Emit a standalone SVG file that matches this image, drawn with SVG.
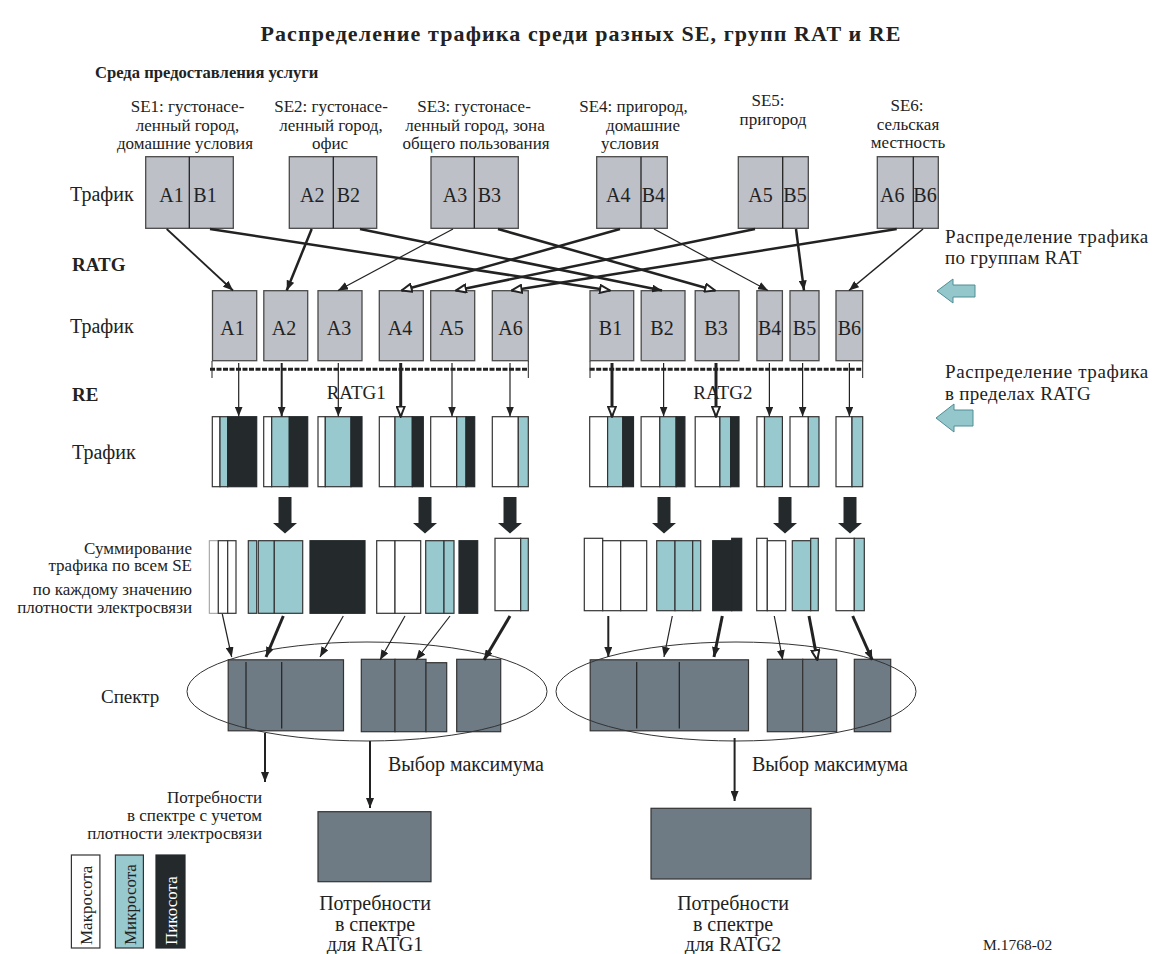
<svg xmlns="http://www.w3.org/2000/svg" width="1157" height="954" viewBox="0 0 1157 954" font-family="'Liberation Serif', 'Times New Roman', serif">
<defs>
<style>
text{font-family:"Liberation Serif","Times New Roman",serif;fill:#222}
.b{font-weight:bold}
.box{fill:#bdc0c7;stroke:#4a4a4a;stroke-width:1.3}
.w{fill:#fff;stroke:#333;stroke-width:1.2}
.c{fill:#97c9cf;stroke:#333;stroke-width:1.2}
.k{fill:#24292c;stroke:#24292c;stroke-width:1.2}
.s{fill:#6e7a84;stroke:#333;stroke-width:1.2}
.ln{stroke:#222;fill:none}
.bar{stroke:#222;stroke-width:3;stroke-dasharray:5 1.5;fill:none}
.cy{fill:#93c7cc;stroke:#4f8e94;stroke-width:1}
.ell{fill:none;stroke:#333;stroke-width:1}
</style>
<marker id="ah" markerUnits="userSpaceOnUse" markerWidth="10" markerHeight="8" refX="10" refY="4" orient="auto">
<path d="M0,0 L10,4 L0,8 z" fill="#222"/>
</marker>
<marker id="ho" markerUnits="userSpaceOnUse" markerWidth="12" markerHeight="10" refX="11" refY="5" orient="auto">
<path d="M1,1 L11,5 L1,9 z" fill="#fff" stroke="#222" stroke-width="2"/>
</marker>
<path id="bigdown" d="M-6.5,0 h13 v26 h5.5 l-12,10.5 l-12,-10.5 h5.5 z" fill="#24292c"/>
</defs>
<rect width="1157" height="954" fill="#fff"/>

<g id="headers">
<text class="b" x="581" y="41" font-size="22" letter-spacing="1.1" text-anchor="middle">Распределение трафика среди разных SE, групп RAT и RE</text>
<text class="b" x="95" y="78" font-size="16.6">Среда предоставления услуги</text>
<text x="70" y="201" font-size="20">Трафик</text>
<text class="b" x="72" y="271" font-size="19">RATG</text>
<text x="70" y="333" font-size="20">Трафик</text>
<text class="b" x="72" y="401" font-size="19">RE</text>
<text x="72" y="459" font-size="20">Трафик</text>
<text x="192" y="554" font-size="17" text-anchor="end">Суммирование</text>
<text x="192" y="571" font-size="17" text-anchor="end">трафика по всем SE</text>
<text x="192" y="595" font-size="17" text-anchor="end">по каждому значению</text>
<text x="192" y="613" font-size="17" text-anchor="end">плотности электросвязи</text>
<text x="101" y="703" font-size="19">Спектр</text>
</g>

<g id="se-labels" font-size="17" text-anchor="middle">
<text x="187.5" y="112">SE1: густонасе-</text>
<text x="187.5" y="130.5">ленный город,</text>
<text x="185" y="149">домашние условия</text>
<text x="331" y="112">SE2: густонасе-</text>
<text x="331" y="130.5">ленный город,</text>
<text x="330" y="149">офис</text>
<text x="474" y="112">SE3: густонасе-</text>
<text x="475" y="130.5">ленный город, зона</text>
<text x="476" y="149">общего пользования</text>
<text x="633.5" y="112">SE4: пригород,</text>
<text x="643" y="130.5">домашние</text>
<text x="630" y="149">условия</text>
<text x="768" y="106">SE5:</text>
<text x="773" y="124.5">пригород</text>
<text x="907" y="111">SE6:</text>
<text x="908" y="129.5">сельская</text>
<text x="908" y="148">местность</text>
</g>

<g id="traffic-se" font-size="20">
<g id="se1"><rect class="box" x="145.7" y="156.7" width="87.6" height="71.6"/><line class="ln" x1="189.3" y1="156.7" x2="189.3" y2="228.3" stroke-width="1.3"/><text x="159.3" y="201.7">A1</text><text x="193.3" y="201.7">B1</text></g>
<g id="se2"><rect class="box" x="289.3" y="156.7" width="87.4" height="71.6"/><line class="ln" x1="333.3" y1="156.7" x2="333.3" y2="228.3" stroke-width="1.3"/><text x="300" y="201.7">A2</text><text x="336.7" y="201.7">B2</text></g>
<g id="se3"><rect class="box" x="431" y="156.7" width="87.3" height="71.6"/><line class="ln" x1="474.3" y1="156.7" x2="474.3" y2="228.3" stroke-width="1.3"/><text x="442.7" y="201.7">A3</text><text x="477.7" y="201.7">B3</text></g>
<g id="se4"><rect class="box" x="596.7" y="156.7" width="70.6" height="71.6"/><line class="ln" x1="641" y1="156.7" x2="641" y2="228.3" stroke-width="1.3"/><text x="606" y="201.7">A4</text><text x="641.7" y="201.7">B4</text></g>
<g id="se5"><rect class="box" x="738.3" y="156.7" width="70" height="71.6"/><line class="ln" x1="782.7" y1="156.7" x2="782.7" y2="228.3" stroke-width="1.3"/><text x="748.3" y="201.7">A5</text><text x="783.3" y="201.7">B5</text></g>
<g id="se6"><rect class="box" x="877.3" y="156.7" width="61" height="71.6"/><line class="ln" x1="913.3" y1="156.7" x2="913.3" y2="228.3" stroke-width="1.3"/><text x="880" y="201.7">A6</text><text x="913.3" y="201.7">B6</text></g>
</g>

<g id="ratg-boxes" font-size="20" text-anchor="middle">
<g id="rA1"><rect class="box" x="212.5" y="290.7" width="44.2" height="70"/><text x="232.5" y="335">A1</text></g>
<g id="rA2"><rect class="box" x="263.8" y="290.7" width="43.9" height="70"/><text x="284" y="335">A2</text></g>
<g id="rA3"><rect class="box" x="318" y="290.7" width="44" height="70"/><text x="339" y="335">A3</text></g>
<g id="rA4"><rect class="box" x="379.3" y="290.7" width="44" height="70"/><text x="400" y="335">A4</text></g>
<g id="rA5"><rect class="box" x="430.7" y="290.7" width="44" height="70"/><text x="451.5" y="335">A5</text></g>
<g id="rA6"><rect class="box" x="492.3" y="290.7" width="36" height="70"/><text x="510.5" y="335">A6</text></g>
<g id="rB1"><rect class="box" x="590" y="290.7" width="43.7" height="70"/><text x="610.5" y="335">B1</text></g>
<g id="rB2"><rect class="box" x="641.2" y="290.7" width="43.8" height="70"/><text x="662" y="335">B2</text></g>
<g id="rB3"><rect class="box" x="695.2" y="290.7" width="43.8" height="70"/><text x="716" y="335">B3</text></g>
<g id="rB4"><rect class="box" x="756.9" y="290.7" width="25.5" height="70"/><text x="769.6" y="335">B4</text></g>
<g id="rB5"><rect class="box" x="790" y="290.7" width="29" height="70"/><text x="804.5" y="335">B5</text></g>
<g id="rB6"><rect class="box" x="836" y="290.7" width="26.7" height="70"/><text x="849.3" y="335">B6</text></g>
</g>

<g id="ratg-brackets">
<line class="bar" x1="210" y1="369.3" x2="528.3" y2="369.3"/>
<line class="ln" x1="212" y1="361" x2="212" y2="378" stroke-width="1"/>
<line class="ln" x1="528.3" y1="361" x2="528.3" y2="378" stroke-width="1"/>
<line class="bar" x1="589.7" y1="369.3" x2="862.7" y2="369.3"/>
<line class="ln" x1="590" y1="361" x2="590" y2="378" stroke-width="1"/>
<line class="ln" x1="862.7" y1="361" x2="862.7" y2="378" stroke-width="1"/>
<text x="326.7" y="398.5" font-size="19">RATG1</text>
<text x="693.3" y="398.5" font-size="19">RATG2</text>
</g>

<g id="re-bars">
<g id="reA1"><rect class="w" x="212.3" y="416.7" width="7.7" height="70"/><rect class="c" x="220" y="416.7" width="7.7" height="70"/><rect class="k" x="227.7" y="416.7" width="29" height="70"/></g>
<g id="reA2"><rect class="w" x="263.7" y="416.7" width="8" height="70"/><rect class="c" x="271.7" y="416.7" width="17.6" height="70"/><rect class="k" x="289.3" y="416.7" width="18.4" height="70"/></g>
<g id="reA3"><rect class="w" x="318" y="416.7" width="7.3" height="70"/><rect class="c" x="325.3" y="416.7" width="25.7" height="70"/><rect class="k" x="351" y="416.7" width="11" height="70"/></g>
<g id="reA4"><rect class="w" x="379.3" y="416.7" width="15.7" height="70"/><rect class="c" x="395" y="416.7" width="17.3" height="70"/><rect class="k" x="412.3" y="416.7" width="11" height="70"/></g>
<g id="reA5"><rect class="w" x="430.7" y="416.7" width="26" height="70"/><rect class="c" x="456.7" y="416.7" width="9.3" height="70"/><rect class="k" x="466" y="416.7" width="8.7" height="70"/></g>
<g id="reA6"><rect class="w" x="492.3" y="416.7" width="26" height="70"/><rect class="c" x="518.3" y="416.7" width="10" height="70"/></g>
<g id="reB1"><rect class="w" x="589.7" y="416.7" width="17.9" height="70"/><rect class="c" x="607.6" y="416.7" width="15.2" height="70"/><rect class="k" x="622.8" y="416.7" width="10.7" height="70"/></g>
<g id="reB2"><rect class="w" x="641.1" y="416.7" width="18.7" height="70"/><rect class="c" x="659.8" y="416.7" width="16.3" height="70"/><rect class="k" x="676.1" y="416.7" width="8.8" height="70"/></g>
<g id="reB3"><rect class="w" x="695.2" y="416.7" width="24.7" height="70"/><rect class="c" x="719.9" y="416.7" width="10.7" height="70"/><rect class="k" x="730.6" y="416.7" width="8.4" height="70"/></g>
<g id="reB4"><rect class="w" x="756.9" y="416.7" width="7.6" height="70"/><rect class="c" x="764.5" y="416.7" width="17.9" height="70"/></g>
<g id="reB5"><rect class="w" x="790" y="416.7" width="18.3" height="70"/><rect class="c" x="808.3" y="416.7" width="10.7" height="70"/></g>
<g id="reB6"><rect class="w" x="836" y="416.7" width="16" height="70"/><rect class="c" x="852" y="416.7" width="10.7" height="70"/></g>
</g>

<g id="sum-bars">
<g id="sAw"><rect x="209.3" y="540.7" width="9" height="72.6" fill="#fff" stroke="#999" stroke-width="1"/><rect class="w" x="218.3" y="540.7" width="9.4" height="72.6"/><rect class="w" x="227.7" y="540.7" width="8.3" height="72.6"/></g>
<g id="sAc"><rect class="c" x="248.3" y="540.7" width="8.4" height="72.6"/><rect class="c" x="258.3" y="540.7" width="16" height="72.6"/><rect class="c" x="274.3" y="540.7" width="28.4" height="72.6"/></g>
<g id="sAk"><rect class="k" x="310" y="540.7" width="55" height="72.6"/></g>
<g id="sA45w"><rect class="w" x="376.7" y="540.7" width="18.3" height="72.6"/><rect class="w" x="395" y="540.7" width="25.7" height="72.6"/></g>
<g id="sA45c"><rect class="c" x="425.7" y="540.7" width="18.3" height="72.6"/><rect class="c" x="444" y="540.7" width="10" height="72.6"/></g>
<g id="sA45k"><rect class="k" x="459" y="540.7" width="18.7" height="72.6"/></g>
<g id="sA6"><rect class="w" x="495" y="538.3" width="25.7" height="72.4"/><rect class="c" x="520.7" y="538.3" width="7.6" height="72.4"/></g>
<g id="sBw"><rect class="w" x="584.3" y="538.3" width="18.4" height="72.4"/><rect class="w" x="602.7" y="540.7" width="18" height="70"/><rect class="w" x="620.7" y="540.7" width="26" height="70"/></g>
<g id="sBc"><rect class="c" x="656.7" y="540.7" width="18.3" height="70"/><rect class="c" x="675" y="540.7" width="17.7" height="70"/><rect class="c" x="692.7" y="540.7" width="8" height="70"/></g>
<g id="sBk"><rect class="k" x="712.7" y="540.7" width="19" height="70"/><rect class="k" x="731.7" y="538.3" width="10" height="72.4"/></g>
<g id="sB45w"><rect class="w" x="756.7" y="538.3" width="10.6" height="72.4"/><rect class="w" x="767.3" y="540.7" width="18.4" height="70"/></g>
<g id="sB45c"><rect class="c" x="792.3" y="540.7" width="18.4" height="70"/><rect class="c" x="810.7" y="538.3" width="7.6" height="72.4"/></g>
<g id="sB6"><rect class="w" x="836" y="538.3" width="18.3" height="72.4"/><rect class="c" x="854.3" y="538.3" width="10" height="72.4"/></g>
</g>

<g id="spectrum">
<g id="spL"><rect class="s" x="228.2" y="659.8" width="115.3" height="71" stroke="#25292c" stroke-width="5"/><line class="ln" x1="246" y1="662" x2="246" y2="728.5" stroke-width="1.2"/><line class="ln" x1="281.7" y1="662" x2="281.7" y2="728.5" stroke-width="1.2"/></g>
<g id="spLm"><rect class="s" x="361.3" y="659.3" width="33.7" height="72.4"/><rect class="s" x="395" y="659.3" width="31" height="72.4"/><rect class="s" x="426" y="662.7" width="20.7" height="69"/></g>
<g id="spLr"><rect class="s" x="456.7" y="659.3" width="44" height="72.4"/></g>
<g id="spR"><rect class="s" x="590.2" y="659.8" width="158.3" height="71" stroke="#25292c" stroke-width="5"/><line class="ln" x1="636.7" y1="662" x2="636.7" y2="728.5" stroke-width="1.2"/><line class="ln" x1="679.3" y1="662" x2="679.3" y2="728.5" stroke-width="1.2"/></g>
<g id="spRm"><rect class="s" x="767.3" y="659.3" width="35.4" height="72.4"/><rect class="s" x="802.7" y="659.3" width="34" height="72.4"/></g>
<g id="spRr"><rect class="s" x="854.3" y="659.3" width="36.4" height="72.4"/></g>
<ellipse class="ell" cx="367" cy="691.5" rx="180" ry="49.5"/>
<ellipse class="ell" cx="736" cy="691.5" rx="180" ry="49.5"/>
</g>

<g id="results">
<g id="res1"><rect class="s" x="318" y="811.7" width="113" height="70"/></g>
<g id="res2"><rect class="s" x="651" y="808.3" width="160" height="70.7"/></g>
<text x="388" y="771" font-size="20">Выбор максимума</text>
<text x="752" y="771" font-size="20">Выбор максимума</text>
<text x="262" y="803" font-size="17" text-anchor="end">Потребности</text>
<text x="262" y="821" font-size="17" text-anchor="end">в спектре с учетом</text>
<text x="262" y="839" font-size="17" text-anchor="end">плотности электросвязи</text>
<text x="375" y="910" font-size="20" text-anchor="middle">Потребности</text>
<text x="375" y="931" font-size="20" text-anchor="middle">в спектре</text>
<text x="375" y="951" font-size="20" text-anchor="middle">для RATG1</text>
<text x="733" y="910" font-size="20" text-anchor="middle">Потребности</text>
<text x="733" y="931" font-size="20" text-anchor="middle">в спектре</text>
<text x="733" y="951" font-size="20" text-anchor="middle">для RATG2</text>
<text x="983" y="950" font-size="15.5">M.1768-02</text>
</g>

<g id="side-notes">
<text x="945" y="243" font-size="19" letter-spacing="0.6">Распределение трафика</text>
<text x="945" y="264" font-size="19" letter-spacing="0.3">по группам RAT</text>
<path class="cy" d="M937,291 L953,279 V285 H975 V297 H953 V303 z"/>
<text x="945" y="378" font-size="19" letter-spacing="0.6">Распределение трафика</text>
<text x="945" y="400" font-size="19" letter-spacing="0.3">в пределах RATG</text>
<path class="cy" d="M936,418 L954,404 V410 H973 V426 H954 V432 z"/>
</g>

<g id="legend">
<g id="lg-macro"><rect class="w" x="71.4" y="855" width="28.5" height="93"/><text font-size="17" transform="translate(91.5,945) rotate(-90)">Макросота</text></g>
<g id="lg-micro"><rect class="c" x="115.4" y="855" width="28" height="93"/><text font-size="17" transform="translate(135.5,945) rotate(-90)">Микросота</text></g>
<g id="lg-pico"><rect class="k" x="156" y="855" width="29" height="93"/><text font-size="17" style="fill:#fff" transform="translate(176.5,945) rotate(-90)">Пикосота</text></g>
</g>

<g id="connectors">
<line class="ln" x1="166.7" y1="229" x2="233" y2="290.5" stroke-width="1.8" marker-end="url(#ah)"/>
<line class="ln" x1="210" y1="229" x2="610" y2="290.5" stroke-width="2.5" marker-end="url(#ho)"/>
<line class="ln" x1="311.7" y1="229" x2="286.7" y2="290.5" stroke-width="2.5" marker-end="url(#ah)"/>
<line class="ln" x1="360" y1="229" x2="662" y2="290.5" stroke-width="2.5" marker-end="url(#ah)"/>
<line class="ln" x1="453" y1="229" x2="338" y2="290.5" stroke-width="1.2" marker-end="url(#ah)"/>
<line class="ln" x1="498" y1="229" x2="715" y2="290.5" stroke-width="2.5" marker-end="url(#ho)"/>
<line class="ln" x1="620" y1="229" x2="401.7" y2="290.5" stroke-width="2.5" marker-end="url(#ho)"/>
<line class="ln" x1="654" y1="229" x2="768" y2="290.5" stroke-width="1.2" marker-end="url(#ah)"/>
<line class="ln" x1="755" y1="229" x2="456" y2="290.5" stroke-width="2.5" marker-end="url(#ho)"/>
<line class="ln" x1="796" y1="229" x2="804" y2="290.5" stroke-width="2.5" marker-end="url(#ah)"/>
<line class="ln" x1="896.7" y1="229" x2="511.7" y2="290.5" stroke-width="2.5" marker-end="url(#ho)"/>
<line class="ln" x1="923" y1="229" x2="849" y2="290.5" stroke-width="1.5" marker-end="url(#ah)"/>

<line class="ln" x1="238.7" y1="363" x2="238.7" y2="416.5" stroke-width="1.2" marker-end="url(#ah)"/>
<line class="ln" x1="281.7" y1="363" x2="281.7" y2="416.5" stroke-width="2" marker-end="url(#ah)"/>
<line class="ln" x1="338.3" y1="363" x2="338.3" y2="416.5" stroke-width="1.2" marker-end="url(#ah)"/>
<line class="ln" x1="400.7" y1="363" x2="400.7" y2="416.5" stroke-width="3" marker-end="url(#ho)"/>
<line class="ln" x1="452" y1="363" x2="452" y2="416.5" stroke-width="1.2" marker-end="url(#ah)"/>
<line class="ln" x1="510" y1="363" x2="510" y2="416.5" stroke-width="1.2" marker-end="url(#ah)"/>
<line class="ln" x1="612" y1="363" x2="612" y2="416.5" stroke-width="3" marker-end="url(#ho)"/>
<line class="ln" x1="663.6" y1="363" x2="663.6" y2="416.5" stroke-width="1.2" marker-end="url(#ah)"/>
<line class="ln" x1="716" y1="363" x2="716" y2="416.5" stroke-width="3" marker-end="url(#ho)"/>
<line class="ln" x1="769.4" y1="363" x2="769.4" y2="416.5" stroke-width="1.2" marker-end="url(#ah)"/>
<line class="ln" x1="802.6" y1="363" x2="802.6" y2="416.5" stroke-width="1.2" marker-end="url(#ah)"/>
<line class="ln" x1="849.4" y1="363" x2="849.4" y2="416.5" stroke-width="1.2" marker-end="url(#ah)"/>

<use href="#bigdown" x="285" y="497"/>
<use href="#bigdown" x="425" y="497"/>
<use href="#bigdown" x="510" y="497"/>
<use href="#bigdown" x="664" y="497"/>
<use href="#bigdown" x="785" y="497"/>
<use href="#bigdown" x="850" y="497"/>

<line class="ln" x1="222.3" y1="614" x2="231.7" y2="657" stroke-width="1.2" marker-end="url(#ah)"/>
<line class="ln" x1="283.3" y1="616" x2="266" y2="657" stroke-width="3" marker-end="url(#ah)"/>
<line class="ln" x1="343.3" y1="616" x2="320" y2="657" stroke-width="1.2" marker-end="url(#ah)"/>
<line class="ln" x1="405" y1="616" x2="380" y2="660" stroke-width="1.2" marker-end="url(#ah)"/>
<line class="ln" x1="450" y1="616" x2="416" y2="660" stroke-width="1.2" marker-end="url(#ah)"/>
<line class="ln" x1="510" y1="616" x2="484" y2="660" stroke-width="3" marker-end="url(#ah)"/>
<line class="ln" x1="608.3" y1="616" x2="608.3" y2="657" stroke-width="2" marker-end="url(#ah)"/>
<line class="ln" x1="672.3" y1="616" x2="664" y2="657" stroke-width="1.2" marker-end="url(#ah)"/>
<line class="ln" x1="722.3" y1="616" x2="714" y2="657" stroke-width="3" marker-end="url(#ah)"/>
<line class="ln" x1="774.3" y1="616" x2="782.7" y2="660" stroke-width="1.2" marker-end="url(#ah)"/>
<line class="ln" x1="809" y1="616" x2="817.3" y2="660" stroke-width="3" marker-end="url(#ho)"/>
<line class="ln" x1="852.7" y1="616" x2="872.3" y2="660" stroke-width="3" marker-end="url(#ah)"/>

<line class="ln" x1="265" y1="733" x2="265" y2="782" stroke-width="2" marker-end="url(#ah)"/>
<line class="ln" x1="370" y1="741" x2="370" y2="808" stroke-width="2" marker-end="url(#ah)"/>
<line class="ln" x1="734.6" y1="738" x2="734.6" y2="801" stroke-width="2" marker-end="url(#ah)"/>
</g>
</svg>
